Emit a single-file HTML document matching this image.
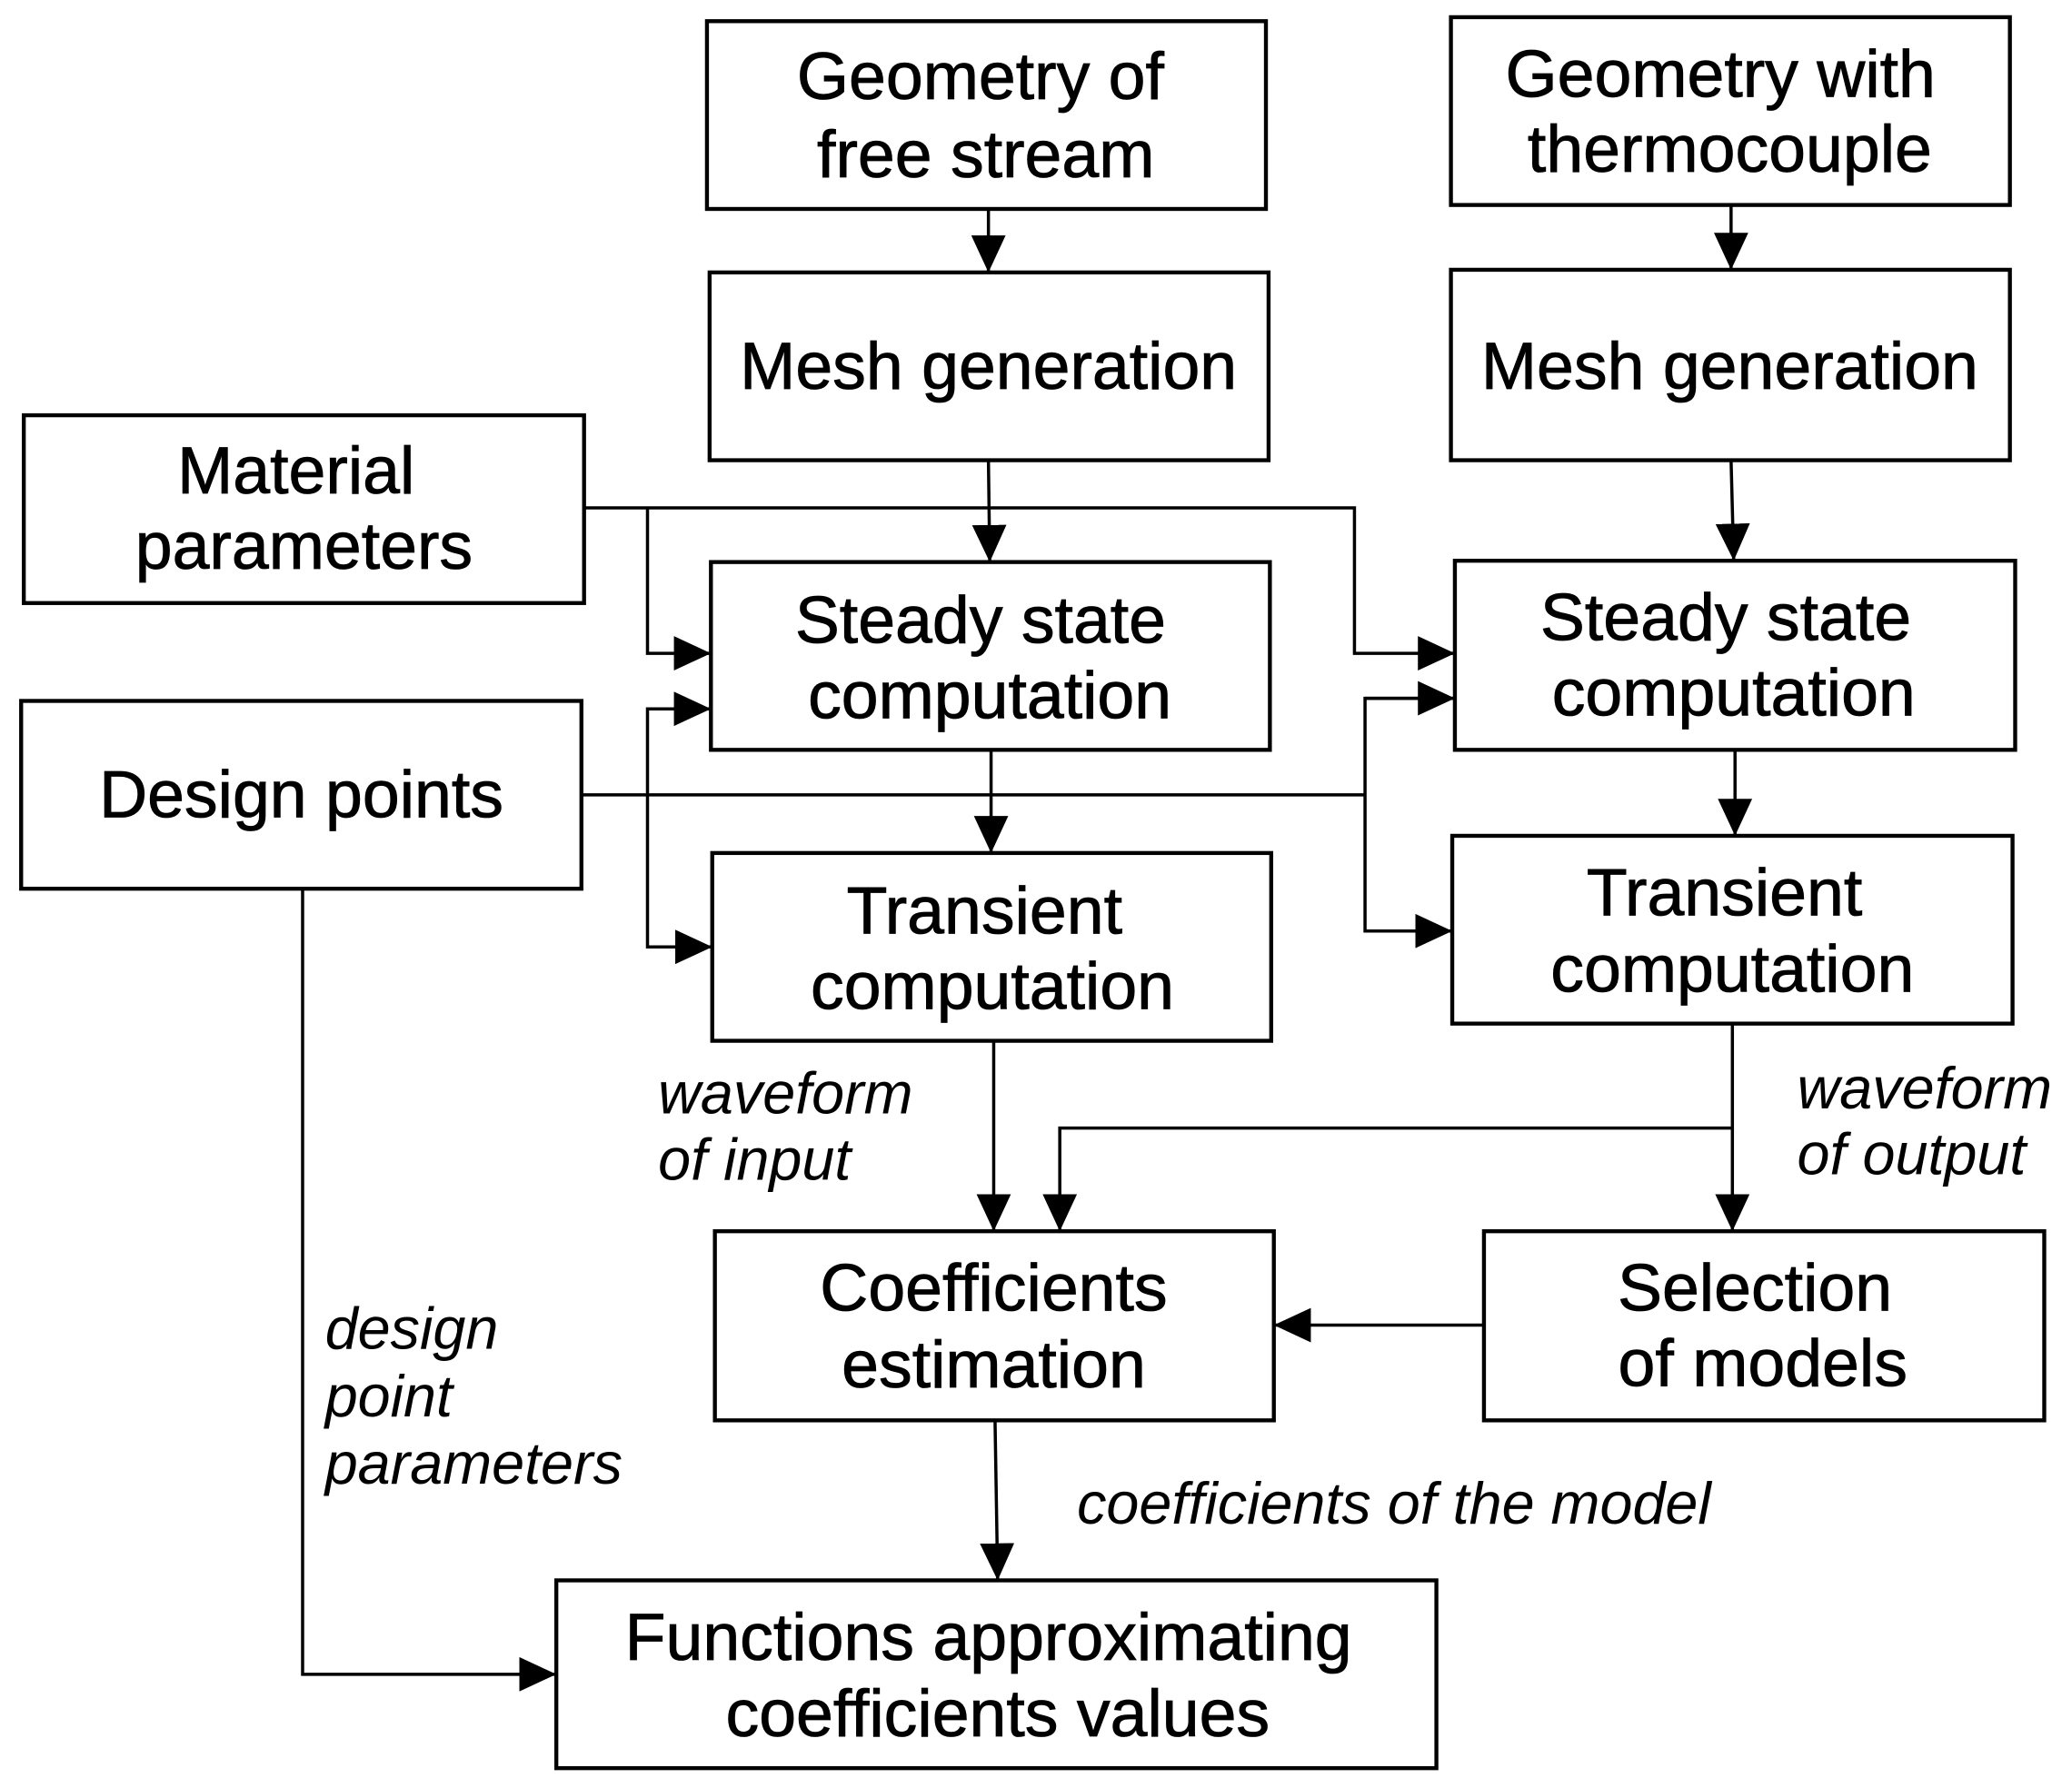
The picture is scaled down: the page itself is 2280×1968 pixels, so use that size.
<!DOCTYPE html>
<html><head><meta charset="utf-8"><style>
html,body{margin:0;padding:0;background:#fff}
svg{display:block}
text{font-family:"Liberation Sans",sans-serif;fill:#000}
.b{font-size:50.5px;stroke:#000;stroke-width:0.6px}
.i{font-size:44.5px;font-style:italic;fill:#2a1a0a}
</style></head><body>
<svg width="2280" height="1968" viewBox="0 0 1568 1352" preserveAspectRatio="none" xmlns="http://www.w3.org/2000/svg">
<defs><marker id="m" markerWidth="28" markerHeight="26" refX="28" refY="13" orient="auto" markerUnits="userSpaceOnUse"><path d="M0,0 L28,13 L0,26z"/></marker></defs>
<g fill="none" stroke="#000" stroke-width="3">
<rect x="535" y="16" width="423" height="142"/>
<rect x="1098" y="13" width="423" height="142"/>
<rect x="537" y="206" width="423" height="142"/>
<rect x="1098" y="204" width="423" height="144"/>
<rect x="18" y="314" width="424" height="142"/>
<rect x="538" y="425" width="423" height="142"/>
<rect x="1101" y="424" width="424" height="143"/>
<rect x="16" y="530" width="424" height="142"/>
<rect x="539" y="645" width="423" height="142"/>
<rect x="1099" y="632" width="424" height="142"/>
<rect x="541" y="931" width="423" height="143"/>
<rect x="1123" y="931" width="424" height="143"/>
<rect x="421" y="1195" width="666" height="142"/>
</g>
<g fill="none" stroke="#000" stroke-width="2.4">
<path d="M748,158 V206" marker-end="url(#m)"/>
<path d="M1310,155 V204" marker-end="url(#m)"/>
<path d="M748,348 L749,425" marker-end="url(#m)"/>
<path d="M1310,348 L1312,424" marker-end="url(#m)"/>
<path d="M442,384 H1025 V494 H1101" marker-end="url(#m)"/>
<path d="M490,384 V494 H538" marker-end="url(#m)"/>
<path d="M440,601 H1033"/>
<path d="M538,536 H490 V716 H539" marker-end="url(#m)"/>
<path d="M490,536 H538" marker-end="url(#m)"/>
<path d="M1101,528 H1033 V704 H1099" marker-end="url(#m)"/>
<path d="M1033,528 H1101" marker-end="url(#m)"/>
<path d="M750,567 V645" marker-end="url(#m)"/>
<path d="M1313,567 V632" marker-end="url(#m)"/>
<path d="M752,787 V931" marker-end="url(#m)"/>
<path d="M1311,774 V931" marker-end="url(#m)"/>
<path d="M1311,853 H802 V931" marker-end="url(#m)"/>
<path d="M1123,1002 H964" marker-end="url(#m)"/>
<path d="M753,1074 L755,1195" marker-end="url(#m)"/>
<path d="M229,672 V1266 H421" marker-end="url(#m)"/>
</g>
<g class="b" text-anchor="middle">
<text x="742" y="75">Geometry of</text><text x="746" y="134">free stream</text>
<text x="1302" y="73">Geometry with</text><text x="1309" y="130">thermocouple</text>
<text x="748" y="294">Mesh generation</text>
<text x="1309" y="294">Mesh generation</text>
<text x="224" y="373">Material</text><text x="230" y="430">parameters</text>
<text x="742" y="486">Steady state</text><text x="749" y="543">computation</text>
<text x="1306" y="484">Steady state</text><text x="1312" y="541">computation</text>
<text x="228" y="618">Design points</text>
<text x="745" y="706">Transient</text><text x="751" y="763">computation</text>
<text x="1305" y="692">Transient</text><text x="1311" y="750">computation</text>
<text x="752" y="991">Coefficients</text><text x="752" y="1049">estimation</text>
<text x="1328" y="991">Selection</text><text x="1334" y="1048">of models</text>
<text x="748" y="1255">Functions approximating</text><text x="755" y="1313">coefficients values</text>
</g>
<g class="i">
<text x="498" y="842">waveform</text><text x="498" y="892">of input</text>
<text x="1360" y="838">waveform</text><text x="1360" y="888">of output</text>
<text x="246" y="1020">design</text><text x="246" y="1071">point</text><text x="246" y="1122">parameters</text>
<text x="815" y="1152">coefficients of the model</text>
</g>
</svg>
</body></html>
